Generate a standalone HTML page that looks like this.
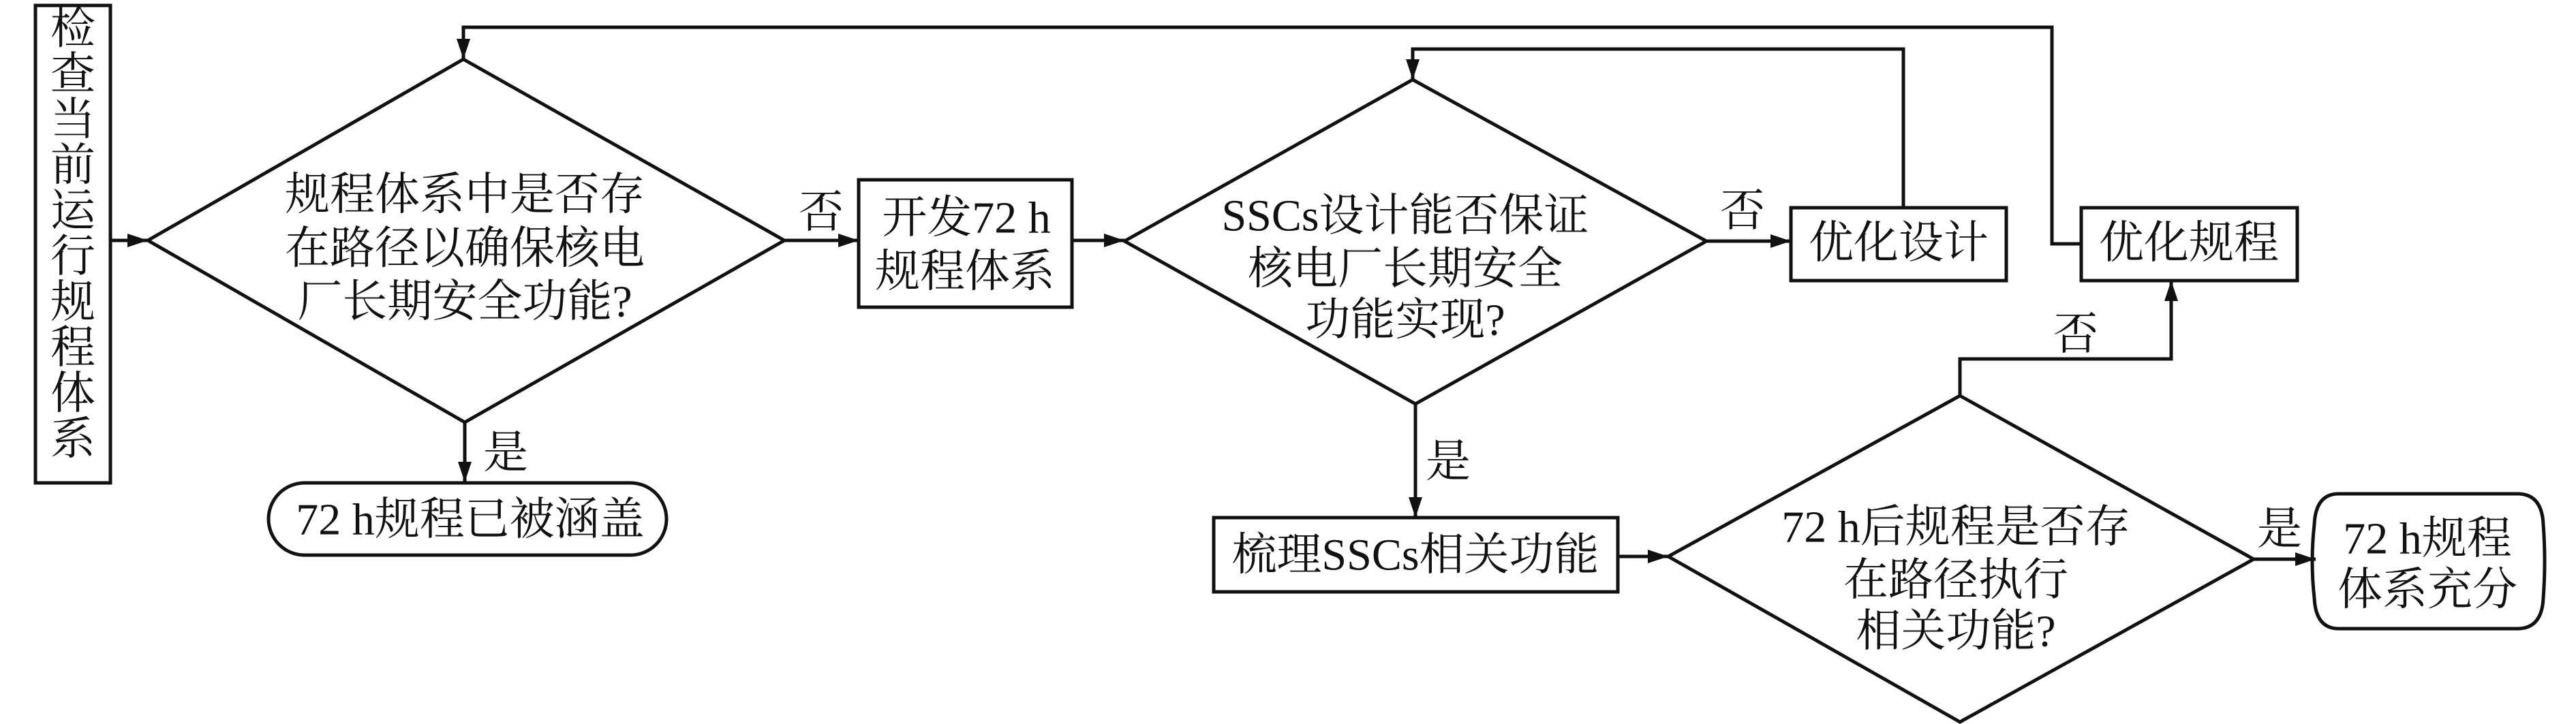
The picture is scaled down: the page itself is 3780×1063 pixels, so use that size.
<!DOCTYPE html>
<html><head><meta charset="utf-8"><style>
html,body{margin:0;padding:0;background:#fff;}
svg{display:block;}
text{font-family:"Liberation Serif","Noto Serif CJK SC","Noto Sans CJK SC",serif;font-size:66px;fill:#111;text-anchor:middle;dominant-baseline:central;}
</style></head><body>
<svg width="3780" height="1063" viewBox="0 0 3780 1063" xmlns="http://www.w3.org/2000/svg">
<defs><marker id="a" markerWidth="10" markerHeight="8" refX="10" refY="4" orient="auto" markerUnits="userSpaceOnUse" viewBox="0 0 10 8"><path d="M0,0 L10,4 L0,8 z" fill="#111"/></marker>
<marker id="b" viewBox="0 0 30 20" refX="30" refY="10" markerWidth="30" markerHeight="20" orient="auto" markerUnits="userSpaceOnUse"><path d="M0,0 L30,10 L0,20 z" fill="#111"/></marker></defs>
<g fill="none" stroke="#111" stroke-width="5">
<!-- left box -->
<rect x="52" y="8" width="110" height="701"/>
<line x1="162" y1="353" x2="217" y2="353" marker-end="url(#b)"/>
<polygon points="680,87 1151,353 682,620 217,353"/>
<line x1="1151" y1="353" x2="1260" y2="353" marker-end="url(#b)"/>
<line x1="682" y1="620" x2="682" y2="708" marker-end="url(#b)"/>
<rect x="394" y="709" width="584" height="106" rx="53"/>
<rect x="1260" y="264" width="313" height="187"/>
<line x1="1573" y1="353" x2="1650" y2="353" marker-end="url(#b)"/>
<polygon points="2073,117 2504,354 2077,593 1650,354"/>
<line x1="2504" y1="354" x2="2628" y2="354" marker-end="url(#b)"/>
<line x1="2077" y1="593" x2="2077" y2="760" marker-end="url(#b)"/>
<rect x="1781" y="760" width="593" height="109"/>
<line x1="2374" y1="817" x2="2448" y2="817" marker-end="url(#b)"/>
<polygon points="2876,581 3307,821 2876,1060 2448,817"/>
<rect x="2628" y="305" width="316" height="107"/>
<rect x="3054" y="305" width="317" height="107"/>
<polyline points="2793,305 2793,72 2073,72 2073,117" marker-end="url(#b)"/>
<polyline points="3054,358 3011,358 3011,40 680,40 680,87" marker-end="url(#b)"/>
<polyline points="2876,581 2876,527 3186,527 3186,412" marker-end="url(#b)"/>
<line x1="3307" y1="821" x2="3398" y2="821" marker-end="url(#b)"/>
<path d="M3432,725 H3694 Q3730,725 3732,770 Q3736,824 3732,878 Q3730,923 3694,923 H3432 Q3398,923 3396,878 Q3390,824 3396,770 Q3398,725 3432,725 Z"/>
</g>
<!-- vertical text -->
<g>
<text x="107" y="42">检</text><text x="107" y="109">查</text><text x="107" y="176">当</text><text x="107" y="243">前</text><text x="107" y="310">运</text><text x="107" y="377">行</text><text x="107" y="444">规</text><text x="107" y="511">程</text><text x="107" y="578">体</text><text x="107" y="645">系</text>
</g>
<text x="682" y="286">规程体系中是否存</text>
<text x="682" y="365">在路径以确保核电</text>
<text x="682" y="443">厂长期安全功能?</text>
<text x="1205" y="312">否</text>
<text x="742" y="665">是</text>
<text x="690" y="763">72 h规程已被涵盖</text>
<text x="1418" y="320">开发72 h</text>
<text x="1416" y="399">规程体系</text>
<text x="2062" y="317">SSCs设计能否保证</text>
<text x="2062" y="395">核电厂长期安全</text>
<text x="2062" y="470">功能实现?</text>
<text x="2557" y="310">否</text>
<text x="2786" y="357">优化设计</text>
<text x="3212" y="357">优化规程</text>
<text x="2125" y="678">是</text>
<text x="2077" y="815">梳理SSCs相关功能</text>
<text x="3046" y="491">否</text>
<text x="2870" y="774">72 h后规程是否存</text>
<text x="2870" y="852">在路径执行</text>
<text x="2870" y="927">相关功能?</text>
<text x="3345" y="777">是</text>
<text x="3562" y="791">72 h规程</text>
<text x="3562" y="866">体系充分</text>
</svg>
</body></html>
